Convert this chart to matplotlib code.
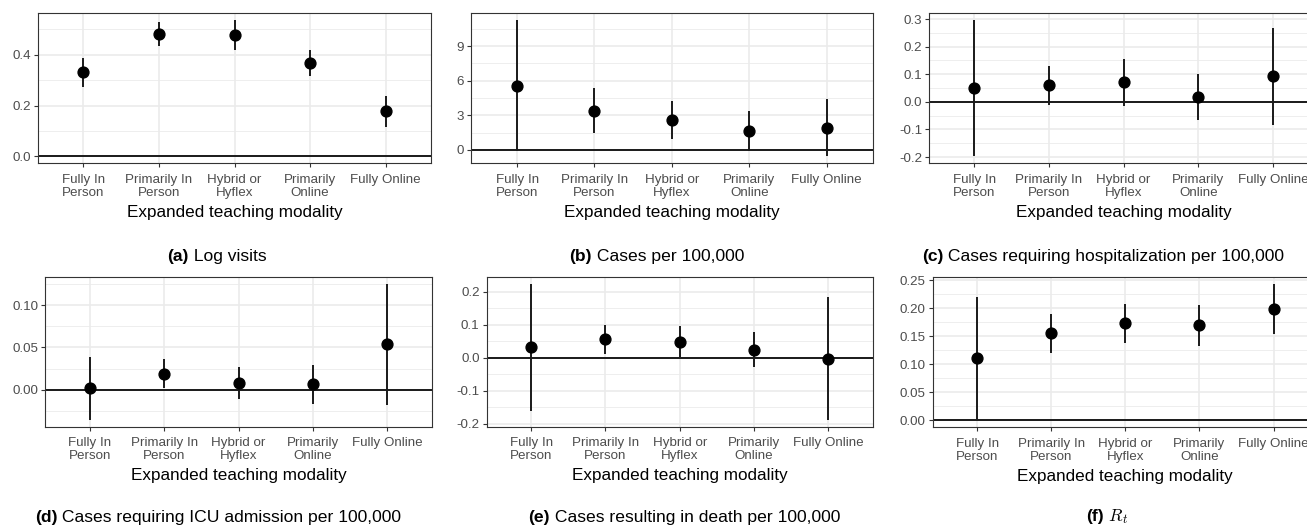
import matplotlib
matplotlib.use("Agg")
import matplotlib.pyplot as plt
from matplotlib.ticker import MultipleLocator, FuncFormatter
import numpy as np

plt.rcParams['font.family'] = ['Liberation Sans', 'DejaVu Sans']
plt.rcParams['mathtext.fontset'] = 'cm'
plt.rcParams['axes.unicode_minus'] = False

categories = ["Fully In\nPerson", "Primarily In\nPerson", "Hybrid or\nHyflex",
              "Primarily\nOnline", "Fully Online"]

log_visits_est = [0.331, 0.480, 0.476, 0.366, 0.178]
log_visits_lo = [0.271, 0.434, 0.418, 0.314, 0.115]
log_visits_hi = [0.388, 0.527, 0.535, 0.418, 0.238]

cases_est = [5.57, 3.37, 2.60, 1.64, 1.90]
cases_lo = [-0.14, 1.44, 0.95, -0.14, -0.58]
cases_hi = [11.25, 5.34, 4.24, 3.40, 4.38]

hosp_est = [0.049, 0.060, 0.071, 0.018, 0.092]
hosp_lo = [-0.198, -0.011, -0.014, -0.065, -0.083]
hosp_hi = [0.296, 0.130, 0.154, 0.101, 0.267]

icu_est = [0.0016, 0.0189, 0.0083, 0.0063, 0.0543]
icu_lo = [-0.0358, 0.0020, -0.0110, -0.0173, -0.0177]
icu_hi = [0.0386, 0.0358, 0.0272, 0.0287, 0.1250]

death_est = [0.033, 0.057, 0.047, 0.025, -0.003]
death_lo = [-0.161, 0.011, 0.001, -0.027, -0.188]
death_hi = [0.225, 0.099, 0.096, 0.077, 0.183]

rt_est = [0.111, 0.156, 0.173, 0.170, 0.199]
rt_lo = [0.003, 0.121, 0.1375, 0.133, 0.154]
rt_hi = [0.220, 0.190, 0.208, 0.205, 0.243]

caption_tags = ["(a)", "(b)", "(c)", "(d)", "(e)", "(f)"]
caption_texts = ["Log visits", "Cases per 100,000",
                 "Cases requiring hospitalization per 100,000",
                 "Cases requiring ICU admission per 100,000",
                 "Cases resulting in death per 100,000", r"$R_t$"]
xlabel = "Expanded teaching modality"

W, H = 1307, 526
fig = plt.figure(figsize=(W / 100, H / 100), dpi=100)

# layout in pixels: left, right, top, bottom
boxes = [(38, 431, 13.3, 163.3), (470.7, 873, 13.3, 163.3), (929.3, 1318, 13.3, 163.3),
         (45.3, 432, 277.3, 426.7), (486.7, 872.7, 276.7, 426.7), (932.7, 1318, 277.3, 427.3)]
steps = [(0.2, 0.1, "%.1f"), (3, 1.5, "%d"), (0.1, 0.05, "%.1f"),
         (0.05, 0.025, "%.2f"), (0.1, 0.05, "%.1f"), (0.05, 0.025, "%.2f")]
caption_pos = [(217, 261), (657, 261), (1103, 261), (218, 522), (684, 522), (1107, 521)]

series = [(log_visits_est, log_visits_lo, log_visits_hi),
          (cases_est, cases_lo, cases_hi),
          (hosp_est, hosp_lo, hosp_hi),
          (icu_est, icu_lo, icu_hi),
          (death_est, death_lo, death_hi),
          (rt_est, rt_lo, rt_hi)]

grey20 = "#333333"
grey30 = "#4D4D4D"
grey92 = "#EBEBEB"

x = np.arange(len(categories))
for i, ((l, r, t, b), (est, lo, hi), (maj, mnr, fmt)) in enumerate(zip(boxes, series, steps)):
    ax = fig.add_axes([l / W, 1 - b / H, (r - l) / W, (b - t) / H])
    est = np.array(est); lo = np.array(lo); hi = np.array(hi)
    ymin = min(lo.min(), 0.0); ymax = max(hi.max(), 0.0)
    pad = 0.05 * (ymax - ymin)
    ax.set_ylim(ymin - pad, ymax + pad)
    ax.set_xlim(-0.6, len(categories) - 1 + 0.6)
    ax.yaxis.set_major_locator(MultipleLocator(maj))
    ax.yaxis.set_minor_locator(MultipleLocator(mnr))
    ax.yaxis.set_major_formatter(FuncFormatter(lambda v, p, f=fmt: (f % v).replace("\u2212", "-")))
    ax.set_xticks(x)
    ax.set_xticklabels(categories, linespacing=1.12)
    ax.grid(which='major', color=grey92, lw=1.2, zorder=0)
    ax.grid(which='minor', axis='y', color=grey92, lw=0.6, zorder=0)
    ax.set_axisbelow(True)
    ax.axhline(0, color='#1a1a1a', lw=1.4, zorder=2)
    ax.vlines(x, lo, hi, color='#1a1a1a', lw=1.4, zorder=3)
    ax.plot(x, est, 'o', color='black', markersize=7.8, zorder=4)
    for s in ax.spines.values():
        s.set_color(grey20)
        s.set_linewidth(0.8)
    ax.tick_params(which='major', length=2.9, width=0.8, color=grey20, pad=2.2,
                   labelsize=9.6, labelcolor=grey30)
    ax.tick_params(axis='x', which='major', pad=4.8)
    ax.tick_params(which='minor', length=0)
    ax.set_xlabel(xlabel, fontsize=12.3, color='black')
    ax.xaxis.label.set_va('baseline')
    ax.xaxis.set_label_coords(0.5, -(53.6) / (b - t))

renderer = fig.canvas.get_renderer()
for (xc, yb), tag, txt in zip(caption_pos, caption_tags, caption_texts):
    t1 = fig.text(0, 1 - yb / H, tag, fontsize=12.6, fontweight='bold', va='baseline', ha='left')
    t2 = fig.text(0, 1 - yb / H, " " + txt, fontsize=12.6, va='baseline', ha='left')
    w1 = t1.get_window_extent(renderer).width
    w2 = t2.get_window_extent(renderer).width
    x0 = xc - (w1 + w2) / 2
    t1.set_x(x0 / W)
    t2.set_x((x0 + w1) / W)

fig.savefig("out.png", dpi=100)
